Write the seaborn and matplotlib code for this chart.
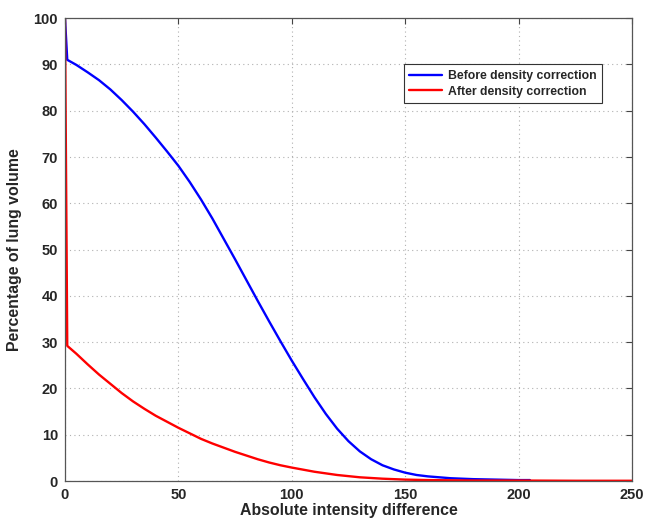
import matplotlib
matplotlib.use("Agg")
import matplotlib.pyplot as plt
import numpy as np
import pandas as pd
import seaborn as sns

# curve before density correction
diff_before = [0, 1, 5, 10, 15, 20, 25, 30, 35, 40, 45, 50, 55, 60, 65, 70, 75, 80, 85, 90,
               95, 100, 105, 110, 115, 120, 125, 130, 135, 140, 145, 150, 155, 160, 170, 180,
               190, 200, 205]
pct_before = [100, 91.0, 89.9, 88.3, 86.6, 84.6, 82.3, 79.8, 77.1, 74.2, 71.2, 68.1, 64.6, 60.8,
              56.7, 52.3, 47.9, 43.4, 38.9, 34.5, 30.2, 26.0, 22.0, 18.1, 14.5, 11.3, 8.6, 6.4,
              4.7, 3.4, 2.5, 1.8, 1.3, 1.0, 0.6, 0.4, 0.3, 0.2, 0.2]

# curve after density correction
diff_after = [0, 1, 5, 10, 15, 20, 25, 30, 35, 40, 45, 50, 55, 60, 65, 70, 75, 80, 85, 90, 95,
              100, 110, 120, 130, 140, 150, 160, 180, 200, 225, 250]
pct_after = [100, 29.2, 27.5, 25.2, 23.0, 21.0, 19.0, 17.2, 15.6, 14.1, 12.8, 11.5, 10.3, 9.1,
             8.1, 7.2, 6.3, 5.5, 4.7, 4.0, 3.4, 2.9, 2.0, 1.3, 0.8, 0.5, 0.3, 0.2, 0.1, 0.1,
             0.05, 0.05]

labels = ['Before density correction', 'After density correction']

df = pd.concat([
    pd.DataFrame({'diff': diff_before, 'pct': pct_before, 'curve': labels[0]}),
    pd.DataFrame({'diff': diff_after, 'pct': pct_after, 'curve': labels[1]}),
])

sns.set_style("white")
plt.rcParams['font.family'] = ['Liberation Sans', 'DejaVu Sans']
plt.rcParams['font.weight'] = 'bold'
plt.rcParams['axes.labelweight'] = 'bold'

fig = plt.figure(figsize=(6.46, 5.23), dpi=100)
ax = fig.add_axes([0.1006, 0.0803, 0.8777, 0.885])

sns.lineplot(data=df, x='diff', y='pct', hue='curve', hue_order=labels,
             palette={labels[0]: '#0000ff', labels[1]: '#ff0000'},
             estimator=None, sort=False, linewidth=1.7, ax=ax)

ax.set_xlim(0, 250)
ax.set_ylim(0, 100)
ax.set_xticks(np.arange(0, 251, 50))
ax.set_yticks(np.arange(0, 101, 10))
ax.grid(True, linestyle=(0, (1, 3)), color='#b0b0b0', linewidth=0.8)
ax.set_axisbelow(True)
ax.tick_params(direction='in', length=4, width=0.8, top=True, right=True,
               labelsize=10.5, color='#444444', pad=5)
for lab in ax.get_xticklabels() + ax.get_yticklabels():
    lab.set_fontweight('bold')
for sp in ax.spines.values():
    sp.set_visible(True)
    sp.set_color('#555555')
    sp.set_linewidth(0.9)

ax.set_xlabel('Absolute intensity difference', fontsize=11.4, fontweight='bold', labelpad=1)
ax.set_ylabel('Percentage of lung volume', fontsize=11.4, fontweight='bold', labelpad=8)

leg = ax.legend(loc='upper right', bbox_to_anchor=(0.947, 0.90), borderaxespad=0,
                fancybox=False, framealpha=1, edgecolor='#333333',
                prop={'size': 8.8, 'weight': 'bold'}, handlelength=2.7,
                handletextpad=0.45, borderpad=0.45, labelspacing=0.3)
leg.get_frame().set_linewidth(0.8)

fig.savefig('out.png', dpi=100)
